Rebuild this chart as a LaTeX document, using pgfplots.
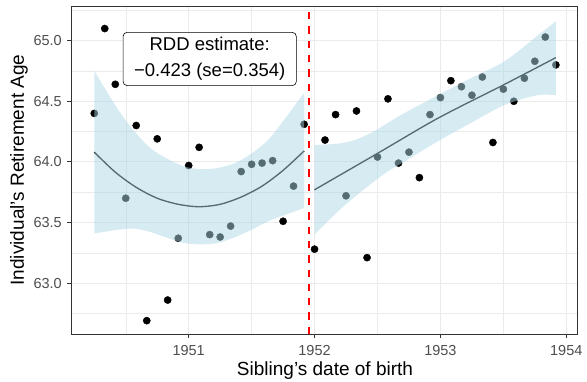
\documentclass[border=0pt]{standalone}
\usepackage{pgfplots}
\pgfplotsset{compat=1.18}
\usepgfplotslibrary{fillbetween}
\usepackage{fontspec}
\setmainfont{Liberation Sans}
\definecolor{ribbon}{HTML}{ADD8E6}
\definecolor{gridc}{HTML}{EBEBEB}
\definecolor{tickcol}{HTML}{333333}
\definecolor{ticklab}{HTML}{4D4D4D}
\begin{document}
\begin{tikzpicture}
\begin{axis}[
  set layers=standard,
  at={(0,0)}, anchor=south west,
  scale only axis, width=506pt, height=328pt,
  xmin=1950.065, xmax=1954.085, ymin=62.58, ymax=65.286,
  xtick={1951,1952,1953,1954}, xticklabels={1951,1952,1953,1954},
  ytick={63,63.5,64,64.5,65}, yticklabels={63.0,63.5,64.0,64.5,65.0},
  minor xtick={1950.5,1951.5,1952.5,1953.5},
  minor ytick={62.75,63.25,63.75,64.25,64.75,65.25},
  xtick pos=lower, ytick pos=left,
  grid=both,
  major grid style={gridc, line width=1pt},
  minor grid style={gridc, line width=0.5pt},
  tick align=outside, major tick length=4pt, minor tick length=0pt,
  every tick/.style={tickcol, line width=0.8pt},
  axis line style={tickcol, line width=0.8pt},
  xticklabel style={anchor=base, inner sep=0pt, yshift=-17pt, font=\fontsize{14.5}{16}\selectfont, text=ticklab},
  yticklabel style={anchor=east, inner sep=0pt, xshift=-5pt, font=\fontsize{14.5}{16}\selectfont, text=ticklab},
  xlabel={Sibling's date of birth},
  ylabel={Individual's Retirement Age},
  xlabel style={at={(axis description cs:0.502,0)}, anchor=base, yshift=-41.7pt, inner sep=0pt, font=\fontsize{19}{22}\selectfont},
  ylabel style={at={(axis description cs:-0.0929,0.5)}, anchor=base, inner sep=0pt, font=\fontsize{19}{22}\selectfont},
  clip=true, clip marker paths=true,
]
% points
\addplot[only marks, mark=*, mark size=3.6pt, mark options={fill=black, draw=black}] coordinates {
(1950.250,64.40) (1950.333,65.10) (1950.417,64.64) (1950.500,63.70) (1950.583,64.30)
(1950.667,62.69) (1950.750,64.19) (1950.833,62.86) (1950.917,63.37) (1951.000,63.97)
(1951.083,64.12) (1951.167,63.40) (1951.250,63.38) (1951.333,63.47) (1951.417,63.92)
(1951.500,63.98) (1951.583,63.99) (1951.667,64.01) (1951.750,63.51) (1951.833,63.80)
(1951.917,64.31)
(1952.000,63.28) (1952.083,64.18) (1952.167,64.39) (1952.250,63.72) (1952.333,64.42)
(1952.417,63.21) (1952.500,64.04) (1952.583,64.52) (1952.667,63.99) (1952.750,64.08)
(1952.833,63.87) (1952.917,64.39) (1953.000,64.53) (1953.083,64.67) (1953.167,64.62)
(1953.250,64.55) (1953.333,64.70) (1953.417,64.16) (1953.500,64.60) (1953.583,64.50)
(1953.667,64.69) (1953.750,64.83) (1953.833,65.03) (1953.917,64.80)
};
% fit lines
\addplot[black, line width=1.35pt, smooth] coordinates {
(1950.250,64.08) (1950.417,63.915) (1950.583,63.79) (1950.750,63.70) (1950.917,63.65)
(1951.083,63.63) (1951.250,63.65) (1951.417,63.71) (1951.583,63.80) (1951.750,63.93)
(1951.917,64.09)
};
\addplot[black, line width=1.35pt, smooth] coordinates {
(1952.000,63.77) (1952.500,64.07) (1952.980,64.36) (1953.510,64.64) (1953.917,64.86)
};
% ribbon bounds
\addplot[draw=none, smooth, name path=LU] coordinates {
(1950.25,64.75) (1950.44,64.43) (1950.57,64.25) (1950.70,64.11) (1950.84,64.02)
(1950.97,63.96) (1951.10,63.94) (1951.23,63.95) (1951.37,63.99) (1951.50,64.07)
(1951.63,64.18) (1951.76,64.35) (1951.917,64.57)
};
\addplot[draw=none, smooth, name path=LL] coordinates {
(1950.25,63.41) (1950.44,63.44) (1950.57,63.45) (1950.70,63.42) (1950.84,63.37)
(1950.97,63.33) (1951.10,63.32) (1951.23,63.33) (1951.37,63.38) (1951.50,63.44)
(1951.63,63.51) (1951.76,63.56) (1951.917,63.62)
};
\addplot[draw=none, smooth, name path=RU] coordinates {
(1952.0,64.14) (1952.185,64.15) (1952.317,64.18) (1952.45,64.24) (1952.58,64.32)
(1952.71,64.40) (1952.98,64.55) (1953.24,64.69) (1953.51,64.83) (1953.77,65.04)
(1953.917,65.16)
};
\addplot[draw=none, smooth, name path=RL] coordinates {
(1952.0,63.40) (1952.185,63.59) (1952.317,63.71) (1952.45,63.82) (1952.58,63.92)
(1952.71,64.00) (1952.98,64.17) (1953.24,64.32) (1953.51,64.47) (1953.77,64.55)
(1953.917,64.55)
};
\addplot[fill=ribbon, fill opacity=0.5, draw=none] fill between[of=LU and LL, on layer=axis descriptions];
\addplot[fill=ribbon, fill opacity=0.5, draw=none] fill between[of=RU and RL, on layer=axis descriptions];
% cutoff
\addplot[red, line width=1.4pt, dash pattern=on 7.3pt off 7pt] coordinates {(1951.955,62.58) (1951.955,65.286)};
\node[draw=black, fill=white, rounded corners=4pt, align=center, line width=0.6pt,
  font=\fontsize{18.5}{26}\selectfont, inner xsep=11pt, inner ysep=5pt]
  at (axis cs:1951.167,64.849) {RDD estimate:\\−0.423 (se=0.354)};
\end{axis}
\path (-71pt,-47pt) rectangle (516pt,334pt);
\end{tikzpicture}
\end{document}
